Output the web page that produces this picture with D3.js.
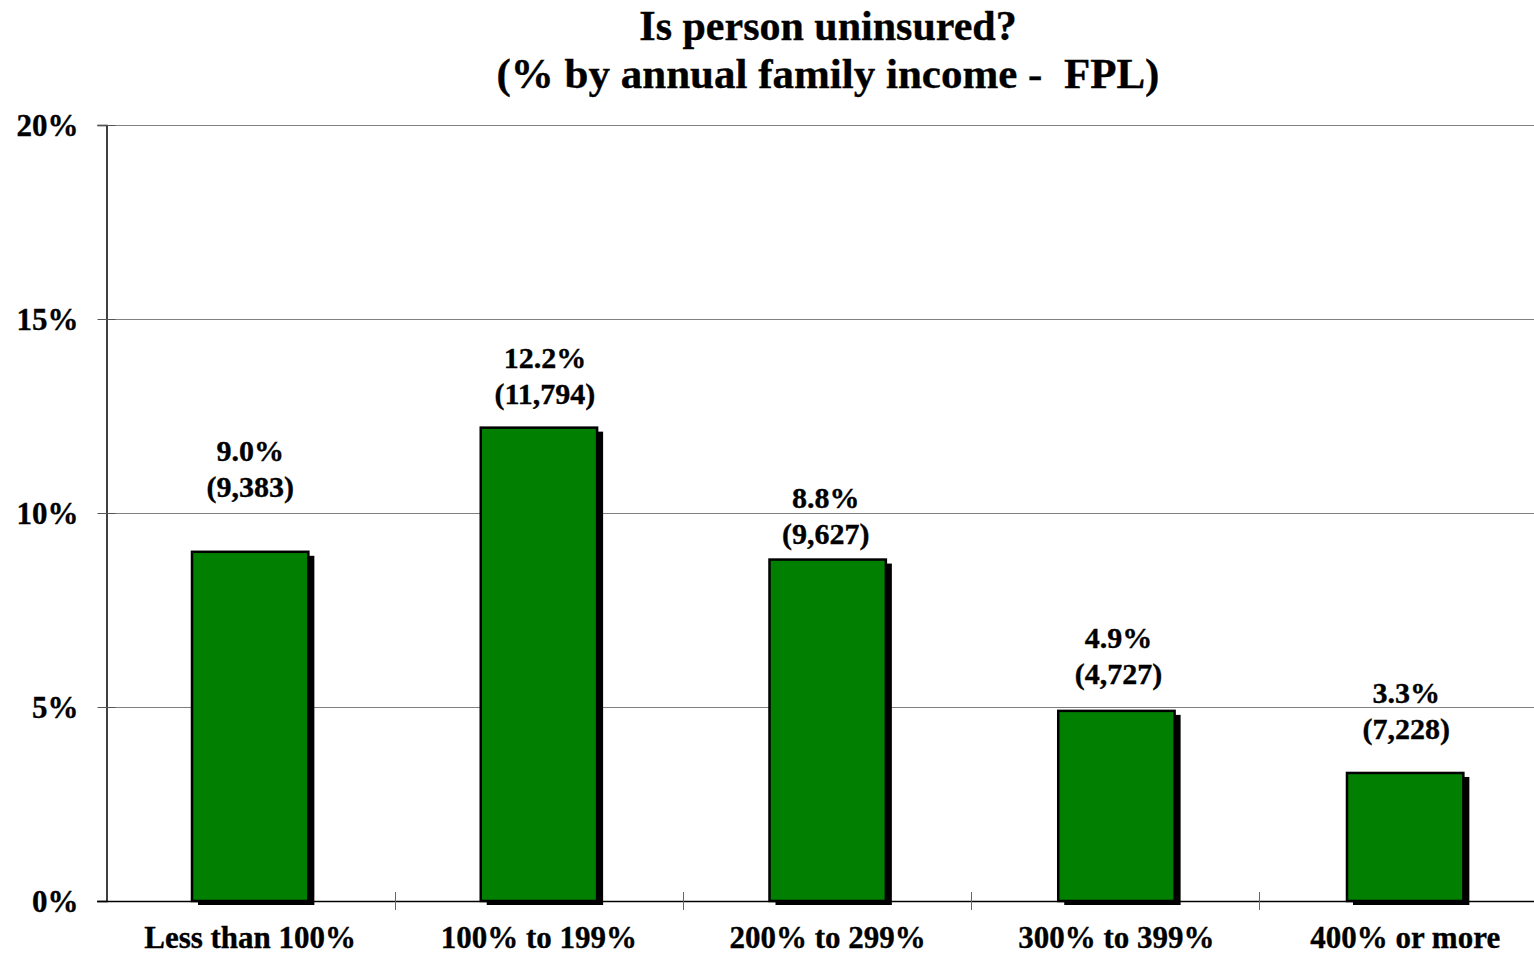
<!DOCTYPE html>
<html>
<head>
<meta charset="utf-8">
<script src="https://cdn.jsdelivr.net/npm/d3@7"></script>
<style>
  html, body { margin: 0; padding: 0; background: #fff; }
  svg { display: block; font-family: "Liberation Serif", "Times New Roman", serif; font-weight: bold; }
  svg text { stroke: #000; stroke-width: 0.35px; }
</style>
</head>
<body>
<svg id="chart" width="1534" height="954"></svg>
<script>
// Share of people uninsured by annual family income (as % of the federal poverty level)
const categories = ["Less than 100%", "100% to 199%", "200% to 299%", "300% to 399%", "400% or more"];
const uninsuredPct = [9.0, 12.2, 8.8, 4.9, 3.3];
const sampleSizes = [9383, 11794, 9627, 4727, 7228];
const yTicks = [0, 5, 10, 15, 20];
const titleLines = ["Is person uninsured?", "(% by annual family income -  FPL)"];

// label placement: baseline of the count line above the bar top, and small horizontal nudges
const labelLift = [55, 24, 16, 27, 34];
const labelShift = [0, 6, -2, 2, 1];

const svg = d3.select("#chart");
const plotLeft = 107, plotTop = 125, plotBottom = 901;

const x = d3.scaleBand().domain(categories).range([105.8, 1549.55])
  .paddingInner(0.597).paddingOuter(0.2985);
const y = d3.scaleLinear().domain([0, 20]).range([plotBottom, plotTop]);

// title
svg.append("g").selectAll("text").data(titleLines).join("text")
  .attr("x", 828).attr("y", (d, i) => 40 + i * 48)
  .attr("text-anchor", "middle")
  .attr("font-size", (d, i) => i === 0 ? 42 : 43)
  .style("white-space", "pre")
  .attr("xml:space", "preserve")
  .text(d => d);

// horizontal gridlines
svg.append("g").selectAll("line").data(yTicks.filter(t => t > 0)).join("line")
  .attr("x1", plotLeft).attr("x2", 1534)
  .attr("y1", d => Math.round(y(d)) + 0.5).attr("y2", d => Math.round(y(d)) + 0.5)
  .attr("stroke", "#808080").attr("stroke-width", 1.2);

// y axis
const yAxis = d3.axisLeft(y).tickValues(yTicks).tickFormat(d => d + "%").tickSize(9).tickPadding(20);
const gy = svg.append("g").attr("transform", `translate(${plotLeft - 0.5},0)`).call(yAxis);
gy.select(".domain").attr("stroke", "#000").attr("stroke-width", 1.5);
gy.selectAll(".tick line").attr("stroke", "#555").attr("x2", -9).attr("x1", 9);
gy.selectAll(".tick text").attr("font-size", 31).attr("font-family", "Liberation Serif").attr("font-weight", "bold")
  .attr("fill", "#000").attr("dy", "0.35em").attr("dx", 1);

// bars: drop shadow then green fill with black outline
const bars = svg.append("g").selectAll("g").data(categories).join("g");
bars.append("rect")
  .attr("x", d => x(d) + 6)
  .attr("y", (d, i) => y(uninsuredPct[i]) + 4)
  .attr("width", x.bandwidth())
  .attr("height", (d, i) => y(0) - y(uninsuredPct[i]))
  .attr("fill", "#000");
bars.append("rect")
  .attr("x", d => x(d))
  .attr("y", (d, i) => y(uninsuredPct[i]))
  .attr("width", x.bandwidth())
  .attr("height", (d, i) => y(0) - y(uninsuredPct[i]))
  .attr("fill", "#007f00")
  .attr("stroke", "#000").attr("stroke-width", 2.5);

// x axis with category dividers
const divider = 288;
const gx = svg.append("g");
gx.append("line").attr("x1", plotLeft - 10).attr("x2", 1534)
  .attr("y1", plotBottom + 0.5).attr("y2", plotBottom + 0.5)
  .attr("stroke", "#000").attr("stroke-width", 1.5);
gx.selectAll("line.tick").data(d3.range(1, categories.length)).join("line")
  .attr("class", "tick")
  .attr("x1", i => plotLeft + i * divider + 0.5).attr("x2", i => plotLeft + i * divider + 0.5)
  .attr("y1", plotBottom - 9).attr("y2", plotBottom + 9)
  .attr("stroke", "#666").attr("stroke-width", 1);
gx.selectAll("text").data(categories).join("text")
  .attr("x", d => x(d) + x.bandwidth() / 2)
  .attr("y", 948)
  .attr("text-anchor", "middle")
  .attr("font-size", 31)
  .text(d => d);

// value labels
const fmt = d3.format(",");
const labels = svg.append("g").selectAll("g").data(categories).join("g")
  .attr("transform", (d, i) => `translate(${x(d) + x.bandwidth() / 2 + labelShift[i]},${y(uninsuredPct[i]) - labelLift[i]})`);
labels.append("text").attr("y", -36).attr("text-anchor", "middle").attr("font-size", 30)
  .text((d, i) => uninsuredPct[i].toFixed(1) + "%");
labels.append("text").attr("y", 0).attr("text-anchor", "middle").attr("font-size", 30)
  .text((d, i) => "(" + fmt(sampleSizes[i]) + ")");
</script>
</body>
</html>
